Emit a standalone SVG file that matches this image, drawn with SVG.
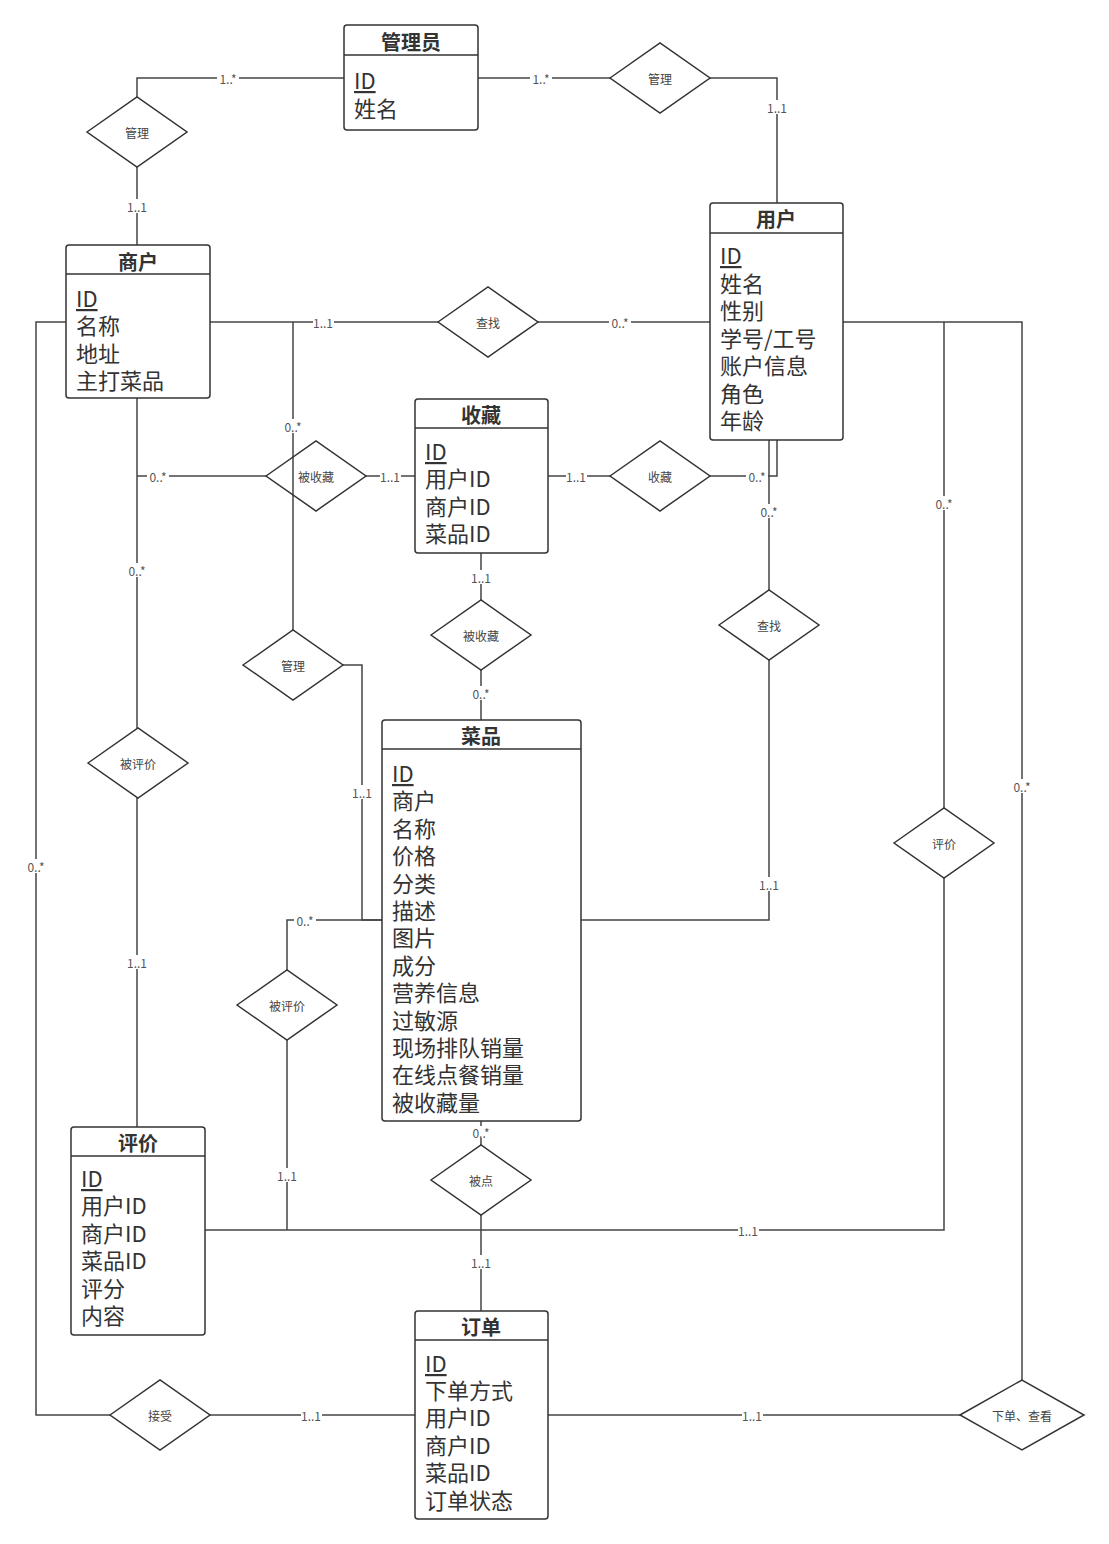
<svg xmlns="http://www.w3.org/2000/svg" width="1109" height="1544" viewBox="0 0 1109 1544">
<style>
text{font-family:"Noto Sans CJK SC","Noto Sans",sans-serif;}
.box{fill:#fff;stroke:#333;stroke-width:1.5;}
.hd{stroke:#333;stroke-width:1.5;}
.title{font-size:20px;font-weight:bold;fill:#333;text-anchor:middle;dominant-baseline:central;}
.attr{font-size:22px;fill:#333;dominant-baseline:central;}
.u{text-decoration:underline;}
.dia{fill:none;stroke:#333;stroke-width:1.5;}
.dt{font-size:12px;fill:#444;text-anchor:middle;dominant-baseline:central;}
.ln{fill:none;stroke:#444;stroke-width:1.5;}
.lb rect{fill:#fff;}
.lb text{font-size:12px;fill:#555;text-anchor:middle;dominant-baseline:central;}
</style>
<rect width="1109" height="1544" fill="#fff"/>
<g id="connectors">
<path class="ln" d="M344,78 H137 V97"/>
<path class="ln" d="M137,167 V245"/>
<path class="ln" d="M478,78 H610"/>
<path class="ln" d="M709,78 H777 V203"/>
<path class="ln" d="M210,322 H438"/>
<path class="ln" d="M538,322 H710"/>
<path class="ln" d="M293,322 V630"/>
<path class="ln" d="M343,665 H362 V920 H382"/>
<path class="ln" d="M137,398 V728"/>
<path class="ln" d="M137,476 H266"/>
<path class="ln" d="M366,476 H415"/>
<path class="ln" d="M137,798 V1127"/>
<path class="ln" d="M544,476 H610"/>
<path class="ln" d="M709,476 H777 V440"/>
<path class="ln" d="M769,440 V590"/>
<path class="ln" d="M769,660 V920 H581"/>
<path class="ln" d="M843,322 H1022 V1380"/>
<path class="ln" d="M944,322 V808"/>
<path class="ln" d="M944,878 V1230 H205"/>
<path class="ln" d="M382,920 H287 V970"/>
<path class="ln" d="M287,1040 V1230"/>
<path class="ln" d="M481,553 V600"/>
<path class="ln" d="M481,670 V720"/>
<path class="ln" d="M481,1121 V1145"/>
<path class="ln" d="M481,1215 V1311"/>
<path class="ln" d="M66,322 H36 V1415 H110"/>
<path class="ln" d="M210,1415 H415"/>
<path class="ln" d="M548,1415 H960"/>
<g class="lb">
<rect x="217" y="71" width="22" height="14"/><text x="228" y="78">1..*</text>
<rect x="127" y="199" width="21" height="14"/><text x="137" y="206">1..1</text>
<rect x="530" y="71" width="22" height="14"/><text x="541" y="78">1..*</text>
<rect x="767" y="100" width="21" height="14"/><text x="777" y="107">1..1</text>
<rect x="313" y="315" width="21" height="14"/><text x="323" y="322">1..1</text>
<rect x="609" y="315" width="22" height="14"/><text x="620" y="322">0..*</text>
<rect x="282" y="419" width="22" height="14"/><text x="293" y="426">0..*</text>
<rect x="352" y="785" width="21" height="14"/><text x="362" y="792">1..1</text>
<rect x="126" y="563" width="22" height="14"/><text x="137" y="570">0..*</text>
<rect x="147" y="469" width="22" height="14"/><text x="158" y="476">0..*</text>
<rect x="380" y="469" width="21" height="14"/><text x="390" y="476">1..1</text>
<rect x="127" y="955" width="21" height="14"/><text x="137" y="962">1..1</text>
<rect x="566" y="469" width="21" height="14"/><text x="576" y="476">1..1</text>
<rect x="746" y="469" width="22" height="14"/><text x="757" y="476">0..*</text>
<rect x="758" y="504" width="22" height="14"/><text x="769" y="511">0..*</text>
<rect x="759" y="877" width="21" height="14"/><text x="769" y="884">1..1</text>
<rect x="1011" y="779" width="22" height="14"/><text x="1022" y="786">0..*</text>
<rect x="933" y="496" width="22" height="14"/><text x="944" y="503">0..*</text>
<rect x="738" y="1223" width="21" height="14"/><text x="748" y="1230">1..1</text>
<rect x="294" y="913" width="22" height="14"/><text x="305" y="920">0..*</text>
<rect x="277" y="1168" width="21" height="14"/><text x="287" y="1175">1..1</text>
<rect x="471" y="570" width="21" height="14"/><text x="481" y="577">1..1</text>
<rect x="470" y="686" width="22" height="14"/><text x="481" y="693">0..*</text>
<rect x="470" y="1126" width="22" height="12"/><text x="481" y="1132">0..*</text>
<rect x="471" y="1255" width="21" height="14"/><text x="481" y="1262">1..1</text>
<rect x="25" y="859" width="22" height="14"/><text x="36" y="866">0..*</text>
<rect x="301" y="1408" width="21" height="14"/><text x="311" y="1415">1..1</text>
<rect x="742" y="1408" width="21" height="14"/><text x="752" y="1415">1..1</text>
</g>
</g>
<g id="d-admin-merchant"><polygon class="dia" points="87,132 137,97 187,132 137,167"/><text class="dt" x="137" y="132">管理</text></g>
<g id="d-admin-user"><polygon class="dia" points="610,78 660,43 710,78 660,113"/><text class="dt" x="660" y="78">管理</text></g>
<g id="d-search1"><polygon class="dia" points="438,322 488,287 538,322 488,357"/><text class="dt" x="488" y="322">查找</text></g>
<g id="d-favored1"><polygon class="dia" points="266,476 316,441 366,476 316,511"/><text class="dt" x="316" y="476">被收藏</text></g>
<g id="d-fav"><polygon class="dia" points="610,476 660,441 710,476 660,511"/><text class="dt" x="660" y="476">收藏</text></g>
<g id="d-favored2"><polygon class="dia" points="431,635 481,600 531,635 481,670"/><text class="dt" x="481" y="635">被收藏</text></g>
<g id="d-search2"><polygon class="dia" points="719,625 769,590 819,625 769,660"/><text class="dt" x="769" y="625">查找</text></g>
<g id="d-manage-dish"><polygon class="dia" points="243,665 293,630 343,665 293,700"/><text class="dt" x="293" y="665">管理</text></g>
<g id="d-reviewed1"><polygon class="dia" points="88,763 138,728 188,763 138,798"/><text class="dt" x="138" y="763">被评价</text></g>
<g id="d-review"><polygon class="dia" points="894,843 944,808 994,843 944,878"/><text class="dt" x="944" y="843">评价</text></g>
<g id="d-reviewed2"><polygon class="dia" points="237,1005 287,970 337,1005 287,1040"/><text class="dt" x="287" y="1005">被评价</text></g>
<g id="d-ordered"><polygon class="dia" points="431,1180 481,1145 531,1180 481,1215"/><text class="dt" x="481" y="1180">被点</text></g>
<g id="d-accept"><polygon class="dia" points="110,1415 160,1380 210,1415 160,1450"/><text class="dt" x="160" y="1415">接受</text></g>
<g id="d-order"><polygon class="dia" points="960,1415 1022,1380 1084,1415 1022,1450"/><text class="dt" x="1022" y="1415">下单、查看</text></g>
<g id="e-admin">
<rect class="box" x="344" y="25" width="134" height="105" rx="3"/>
<line class="hd" x1="344" y1="55" x2="478" y2="55"/>
<text class="title" x="411" y="41">管理员</text>
<text class="attr"><tspan class="u" x="354" y="79">ID</tspan><tspan x="354" y="107">姓名</tspan></text>
</g>
<g id="e-user">
<rect class="box" x="710" y="203" width="133" height="237" rx="3"/>
<line class="hd" x1="710" y1="233" x2="843" y2="233"/>
<text class="title" x="776" y="218">用户</text>
<text class="attr"><tspan class="u" x="720" y="254">ID</tspan><tspan x="720" y="282">姓名</tspan><tspan x="720" y="309">性别</tspan><tspan x="720" y="337">学号/工号</tspan><tspan x="720" y="364">账户信息</tspan><tspan x="720" y="392">角色</tspan><tspan x="720" y="419">年龄</tspan></text>
</g>
<g id="e-merchant">
<rect class="box" x="66" y="245" width="144" height="153" rx="3"/>
<line class="hd" x1="66" y1="274" x2="210" y2="274"/>
<text class="title" x="138" y="261">商户</text>
<text class="attr"><tspan class="u" x="76" y="297">ID</tspan><tspan x="76" y="324">名称</tspan><tspan x="76" y="352">地址</tspan><tspan x="76" y="379">主打菜品</tspan></text>
</g>
<g id="e-fav">
<rect class="box" x="415" y="399" width="133" height="154" rx="3"/>
<line class="hd" x1="415" y1="428" x2="548" y2="428"/>
<text class="title" x="481" y="414">收藏</text>
<text class="attr"><tspan class="u" x="425" y="450">ID</tspan><tspan x="425" y="477">用户ID</tspan><tspan x="425" y="505">商户ID</tspan><tspan x="425" y="532">菜品ID</tspan></text>
</g>
<g id="e-dish">
<rect class="box" x="382" y="720" width="199" height="401" rx="3"/>
<line class="hd" x1="382" y1="749" x2="581" y2="749"/>
<text class="title" x="481" y="735">菜品</text>
<text class="attr"><tspan class="u" x="392" y="772">ID</tspan><tspan x="392" y="799">商户</tspan><tspan x="392" y="827">名称</tspan><tspan x="392" y="854">价格</tspan><tspan x="392" y="882">分类</tspan><tspan x="392" y="909">描述</tspan><tspan x="392" y="936">图片</tspan><tspan x="392" y="964">成分</tspan><tspan x="392" y="991">营养信息</tspan><tspan x="392" y="1019">过敏源</tspan><tspan x="392" y="1046">现场排队销量</tspan><tspan x="392" y="1073">在线点餐销量</tspan><tspan x="392" y="1101">被收藏量</tspan></text>
</g>
<g id="e-review">
<rect class="box" x="71" y="1127" width="134" height="208" rx="3"/>
<line class="hd" x1="71" y1="1156" x2="205" y2="1156"/>
<text class="title" x="138" y="1142">评价</text>
<text class="attr"><tspan class="u" x="81" y="1177">ID</tspan><tspan x="81" y="1204">用户ID</tspan><tspan x="81" y="1232">商户ID</tspan><tspan x="81" y="1259">菜品ID</tspan><tspan x="81" y="1287">评分</tspan><tspan x="81" y="1314">内容</tspan></text>
</g>
<g id="e-order">
<rect class="box" x="415" y="1311" width="133" height="208" rx="3"/>
<line class="hd" x1="415" y1="1340" x2="548" y2="1340"/>
<text class="title" x="481" y="1326">订单</text>
<text class="attr"><tspan class="u" x="425" y="1362">ID</tspan><tspan x="425" y="1389">下单方式</tspan><tspan x="425" y="1416">用户ID</tspan><tspan x="425" y="1444">商户ID</tspan><tspan x="425" y="1471">菜品ID</tspan><tspan x="425" y="1499">订单状态</tspan></text>
</g>
</svg>
